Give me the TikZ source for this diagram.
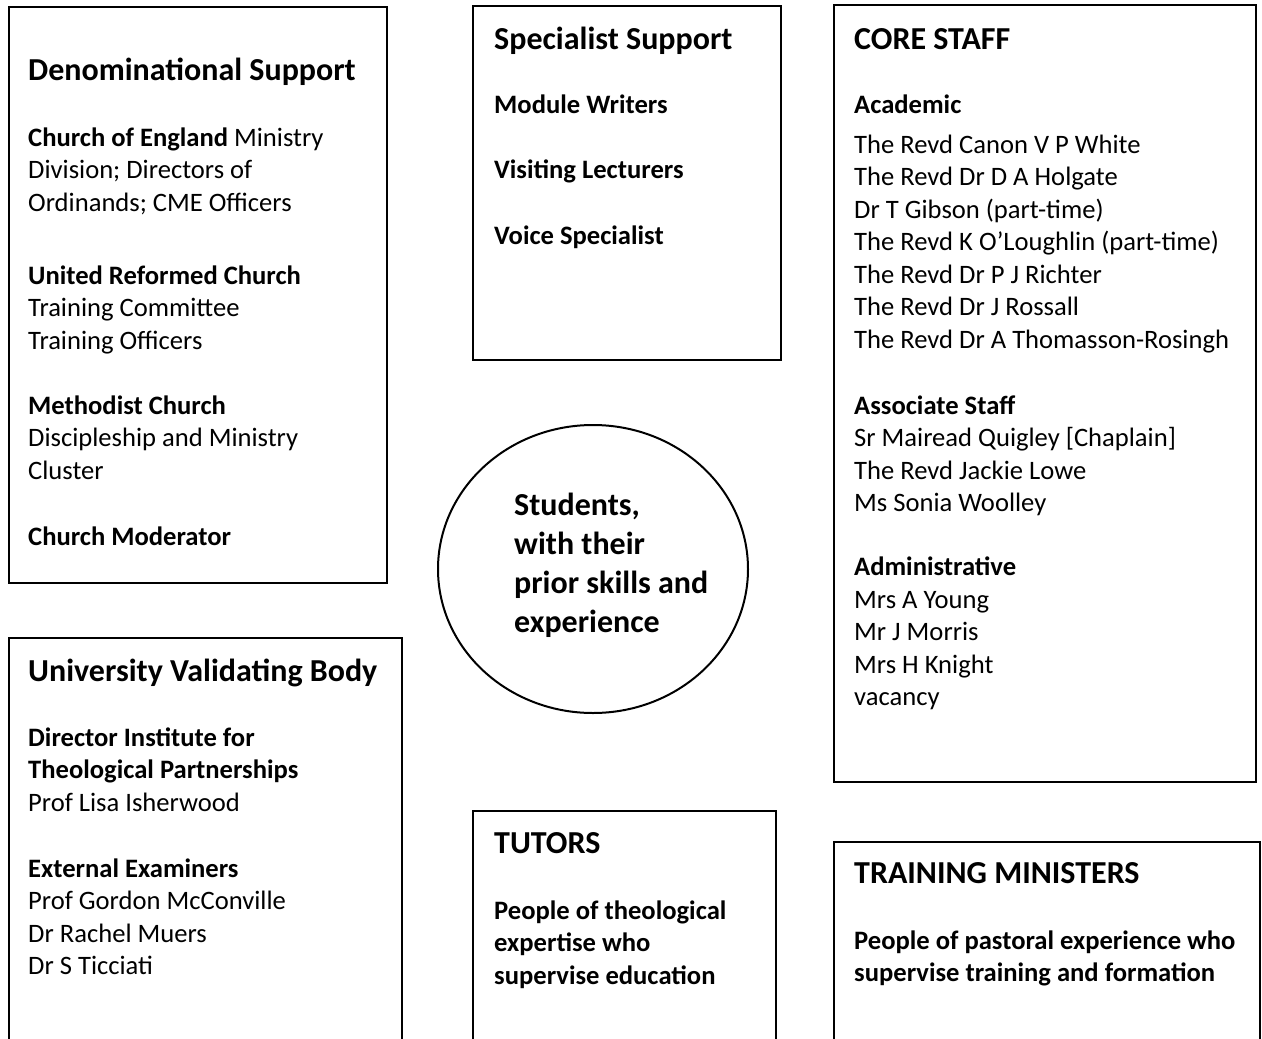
\documentclass[tikz,border=0pt]{standalone}
\usepackage{fontspec}
\setmainfont{Carlito}
\usetikzlibrary{positioning, shapes.geometric}
\tikzset{
  obox/.style={
    rectangle, draw=black, line width=2pt,
    anchor=north west, inner sep=0pt
  },
  ell/.style={
    ellipse, draw=black, line width=2pt, inner sep=0pt
  },
  % text blocks sit on the baseline of their last line
  hd/.style={
    anchor=base west, inner sep=0pt, align=left,
    font=\fontsize{32}{39}\selectfont\bfseries
  },
  txt/.style={
    anchor=base west, inner sep=0pt, align=left,
    font=\fontsize{26.6}{32.5}\selectfont
  },
  btxt/.style={txt, font=\fontsize{26.6}{32.5}\selectfont\bfseries},
}

\begin{document}
\begin{tikzpicture}[x=1pt, y=-1pt]
  \clip (0,0) rectangle (1262,1039);

  % frames
  \node[obox, minimum width=378, minimum height=576] (den) at (8,6) {};
  \node[obox, minimum width=308, minimum height=354] (spec) at (472,5) {};
  \node[obox, minimum width=422, minimum height=777] (core) at (833,4) {};
  \node[obox, minimum width=393, minimum height=440] (univ) at (8,637) {};
  \node[obox, minimum width=303, minimum height=260] (tut) at (472,810) {};
  \node[obox, minimum width=426, minimum height=230] (trm) at (833,841) {};
  \node[ell, minimum width=310, minimum height=288] (stu) at (593,569) {};

  % denominational support
  \node[hd] (denhd) at (28,80) {Denominational Support};
  \node[txt] (denbody) at (28,545) {\textbf{Church of England} Ministry\\
    Division; Directors of\\
    Ordinands; CME Officers\\[40.5pt]
    \textbf{United Reformed Church}\\
    Training Committee\\
    Training Officers\\[32.5pt]
    \textbf{Methodist Church}\\
    Discipleship and Ministry\\
    Cluster\\[33.5pt]
    \textbf{Church Moderator}};

  % specialist support
  \node[hd] (spechd) at (494,49) {Specialist Support};
  \node[btxt] (specbody) at (494,244) {Module Writers\\[33pt]
    Visiting Lecturers\\[33pt]
    Voice Specialist};

  % core staff
  \node[hd] (corehd) at (854,49) {CORE STAFF};
  \node[txt] (corebody) at (854,705.5) {\textbf{Academic}\\[7.5pt]
    The Revd Canon V P White\\
    The Revd Dr D A Holgate\\
    Dr T Gibson (part-time)\\
    The Revd K O’Loughlin (part-time)\\
    The Revd Dr P J Richter\\
    The Revd Dr J Rossall\\
    The Revd Dr A Thomasson-Rosingh\\[33.5pt]
    \textbf{Associate Staff}\\
    Sr Mairead Quigley [Chaplain]\\
    The Revd Jackie Lowe\\
    Ms Sonia Woolley\\[31.5pt]
    \textbf{Administrative}\\
    Mrs A Young\\
    Mr J Morris\\
    Mrs H Knight\\
    vacancy};

  % students
  \node[hd] (stutext) at (514,632.5) {Students,\\with their\\prior skills and\\experience};

  % validating body
  \node[hd] (univhd) at (28,681) {University Validating Body};
  \node[txt] (univbody) at (28,974.5) {\textbf{Director Institute for}\\
    \textbf{Theological Partnerships}\\
    Prof Lisa Isherwood\\[33.5pt]
    \textbf{External Examiners}\\
    Prof Gordon McConville\\
    Dr Rachel Muers\\
    Dr S Ticciati};

  % tutors and training ministers
  \node[hd] (tuthd) at (494,853) {TUTORS};
  \node[btxt] (tutbody) at (494,984) {People of theological\\
    expertise who\\
    supervise education};
  \node[hd] (trmhd) at (854,883) {TRAINING MINISTERS};
  \node[btxt] (trmbody) at (854,981.5) {People of pastoral experience who\\
    supervise training and formation};
\end{tikzpicture}
\end{document}
